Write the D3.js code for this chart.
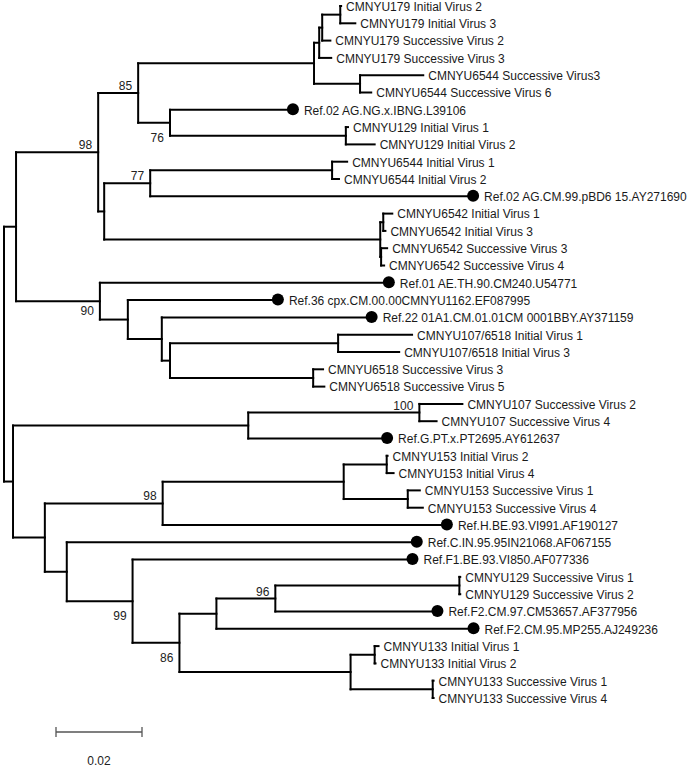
<!DOCTYPE html>
<html>
<head>
<meta charset="utf-8">
<script src="https://cdn.jsdelivr.net/npm/d3@7"></script>
<style>
  html, body { margin: 0; padding: 0; background: #fff; }
  svg { display: block; }
</style>
</head>
<body>
<svg id="chart" width="699" height="769"></svg>
<script>
// ---------------- DATA ----------------
const leafNames = [
  "CMNYU179 Initial Virus 2",
  "CMNYU179 Initial Virus 3",
  "CMNYU179 Successive Virus 2",
  "CMNYU179 Successive Virus 3",
  "CMNYU6544 Successive Virus3",
  "CMNYU6544 Successive Virus 6",
  "Ref.02 AG.NG.x.IBNG.L39106",
  "CMNYU129 Initial Virus 1",
  "CMNYU129 Initial Virus 2",
  "CMNYU6544 Initial Virus 1",
  "CMNYU6544 Initial Virus 2",
  "Ref.02 AG.CM.99.pBD6 15.AY271690",
  "CMNYU6542 Initial Virus 1",
  "CMNYU6542 Initial Virus 3",
  "CMNYU6542 Successive Virus 3",
  "CMNYU6542 Successive Virus 4",
  "Ref.01 AE.TH.90.CM240.U54771",
  "Ref.36 cpx.CM.00.00CMNYU1162.EF087995",
  "Ref.22 01A1.CM.01.01CM 0001BBY.AY371159",
  "CMNYU107/6518 Initial Virus 1",
  "CMNYU107/6518 Initial Virus 3",
  "CMNYU6518 Successive Virus 3",
  "CMNYU6518 Successive Virus 5",
  "CMNYU107 Successive Virus 2",
  "CMNYU107 Successive Virus 4",
  "Ref.G.PT.x.PT2695.AY612637",
  "CMNYU153 Initial Virus 2",
  "CMNYU153 Initial Virus 4",
  "CMNYU153 Successive Virus 1",
  "CMNYU153 Successive Virus 4",
  "Ref.H.BE.93.VI991.AF190127",
  "Ref.C.IN.95.95IN21068.AF067155",
  "Ref.F1.BE.93.VI850.AF077336",
  "CMNYU129 Successive Virus 1",
  "CMNYU129 Successive Virus 2",
  "Ref.F2.CM.97.CM53657.AF377956",
  "Ref.F2.CM.95.MP255.AJ249236",
  "CMNYU133 Initial Virus 1",
  "CMNYU133 Initial Virus 2",
  "CMNYU133 Successive Virus 1",
  "CMNYU133 Successive Virus 4"
];

// Tree topology with branch lengths (tN = leafNames[N]); internal labels = bootstrap support
const newickUpper =
  "((((((((t0:0.0002,t1:0.0035):0.0042,t2:0.0019):0.0007,t3:0.0028):0.0012,(t4:0.0147,t5:0.0026):0.0107):0.0409," +
  "(t6:0.0272,(t7:0.0005,t8:0.0067):0.0409)76:0.0074)85:0.0093," +
  "(((t9:0.0035,t10:0.0016):0.0423,t11:0.0737)77:0.0107," +
  "((t12:0.0021,t13:0.0005):0.0007,(t14:0.0014,t15:0.0007):0.0002):0.0642):0.0014)98:0.0191," +
  "(t16:0.0658,(t17:0.0335,(t18:0.0474,((t19:0.0172,t20:0.0142):0.0391,(t21:0.0023,t22:0.0026):0.0333):0.0019):0.0079):0.0065)90:0.0195):0.0028";
const newickLower =
  "(((t23:0.0100,t24:0.0040)100:0.0398,t25:0.0309):0.0547," +
  "((((t26:0.0002,t27:0.0016):0.0100,(t28:0.0028,t29:0.0035):0.0149):0.0421,t30:0.0647)98:0.0274," +
  "(t31:0.0800,(t32:0.0637,((((t33:0.0002,t34:0.0002):0.0428,t35:0.0363)96:0.0137,t36:0.0584):0.0086," +
  "((t37:0.0009,t38:0.0002):0.0056,(t39:0.0002,t40:0.0002):0.0191):0.0398)86:0.0109)99:0.0153):0.0051):0.0074):0.0021";
const newick = "(" + newickUpper + "," + newickLower + ");";

const scaleBarValue = 0.02;
const scaleBarLabel = "0.02";

// support labels drawn below their branch (others above) -> layout offsets
const supportBelowOffset = { "76": 19, "90": 14, "99": 19, "86": 19 };

// ---------------- PARSE ----------------
function parseNewick(s) {
  let i = 0;
  function node() {
    const n = { children: [] };
    if (s[i] === "(") {
      i++;
      n.children.push(node());
      while (s[i] === ",") { i++; n.children.push(node()); }
      i++; // ')'
    }
    let name = "";
    while (i < s.length && !":,);".includes(s[i])) name += s[i++];
    n.name = name;
    if (s[i] === ":") {
      i++;
      let num = "";
      while (i < s.length && !",);".includes(s[i])) num += s[i++];
      n.length = +num;
    } else n.length = 0;
    return n;
  }
  return node();
}

const root = d3.hierarchy(parseNewick(newick), d => d.children.length ? d.children : null);

// ---------------- LAYOUT ----------------
const svg = d3.select("#chart");
const x = d3.scaleLinear().domain([0, 0.1]).range([4, 434]);
const leaves = root.leaves();
const y = d3.scaleLinear().domain([0, leaves.length - 1]).range([6, 698]);

root.eachBefore(d => { d.dist = (d.parent ? d.parent.dist : 0) + (d.parent ? d.data.length : 0); });
leaves.forEach((d, i) => { d.py = y(i); });
root.eachAfter(d => {
  if (d.children) d.py = (d.children[0].py + d.children[d.children.length - 1].py) / 2;
  d.px = x(d.dist);
});

const font = "'Liberation Sans', Arial, Helvetica, sans-serif";
const g = svg.append("g");

// horizontal branches
g.selectAll("path.h").data(root.descendants().filter(d => d.parent))
  .join("path").attr("class", "h")
  .attr("d", d => `M${d.parent.px},${d.py}H${d.px}`)
  .attr("stroke", "#000").attr("stroke-width", 2).attr("fill", "none")
  .attr("stroke-linecap", "square");

// vertical connectors
g.selectAll("path.v").data(root.descendants().filter(d => d.children))
  .join("path").attr("class", "v")
  .attr("d", d => `M${d.px},${d.children[0].py}V${d.children[d.children.length - 1].py}`)
  .attr("stroke", "#000").attr("stroke-width", 2).attr("fill", "none")
  .attr("stroke-linecap", "square");

// leaf markers & labels
leaves.forEach(d => {
  const name = leafNames[+d.data.name.slice(1)];
  const isRef = name.startsWith("Ref.");
  if (isRef) {
    g.append("circle").attr("cx", d.px + 6).attr("cy", d.py - 0.5).attr("r", 6).attr("fill", "#000");
  }
  g.append("text")
    .attr("x", d.px + (isRef ? 17 : 5))
    .attr("y", d.py + 4.8)
    .attr("font-family", font).attr("font-size", 12).attr("fill", "#1a1a1a")
    .text(name);
});

// support values
root.descendants().filter(d => d.children && d.data.name).forEach(d => {
  const below = supportBelowOffset[d.data.name];
  g.append("text")
    .attr("x", d.px - 6)
    .attr("y", below !== undefined ? d.py + below : d.py - 3)
    .attr("text-anchor", "end")
    .attr("font-family", font).attr("font-size", 12).attr("fill", "#222")
    .text(d.data.name);
});

// scale bar
const sbX0 = 56, sbY = 732;
const sbW = x(scaleBarValue) - x(0);
const sb = svg.append("g").attr("stroke", "#555").attr("stroke-width", 1.3);
sb.append("line").attr("x1", sbX0).attr("x2", sbX0 + sbW).attr("y1", sbY).attr("y2", sbY);
sb.append("line").attr("x1", sbX0).attr("x2", sbX0).attr("y1", sbY - 5).attr("y2", sbY + 5);
sb.append("line").attr("x1", sbX0 + sbW).attr("x2", sbX0 + sbW).attr("y1", sbY - 5).attr("y2", sbY + 5);
svg.append("text").attr("x", sbX0 + sbW / 2).attr("y", 765)
  .attr("text-anchor", "middle").attr("font-family", font).attr("font-size", 12).attr("fill", "#222")
  .text(scaleBarLabel);
</script>
</body>
</html>
